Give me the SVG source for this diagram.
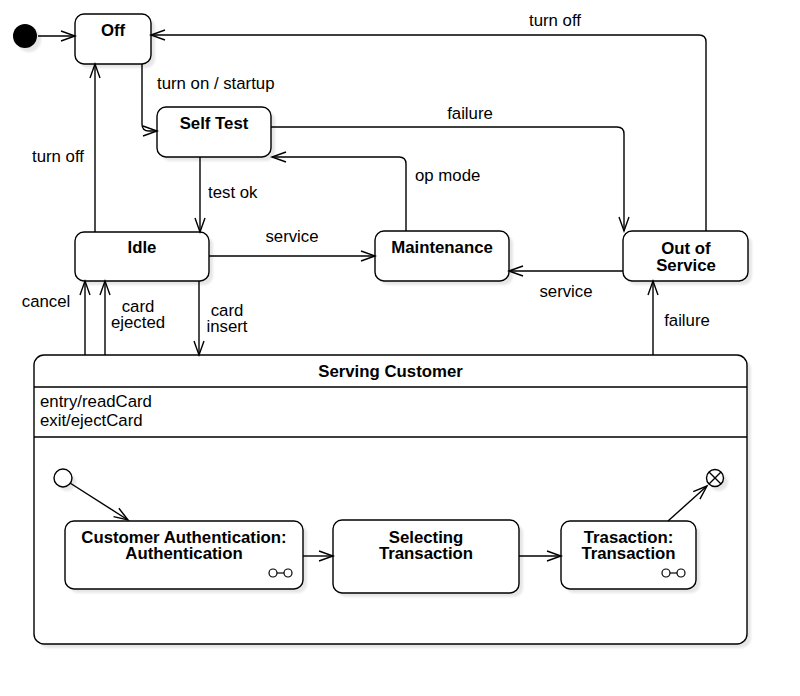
<svg xmlns="http://www.w3.org/2000/svg" width="800" height="696" viewBox="0 0 800 696">
<style>
text{font-family:"Liberation Sans",Arial,Helvetica,sans-serif;font-size:16.8px;fill:#000}
.b{font-weight:bold;text-anchor:middle}
.m{text-anchor:middle}
.box{fill:#fff;stroke:#000;stroke-width:1.4}
.sh{fill:#e6e6e6;stroke:none}
.c{fill:none;stroke:#000;stroke-width:1.4;marker-end:url(#arr)}
.ln{fill:none;stroke:#000;stroke-width:1.4}
</style>
<defs>
<marker id="arr" markerUnits="userSpaceOnUse" markerWidth="20" markerHeight="14" refX="15" refY="6" orient="auto" viewBox="0 0 20 14"><path d="M1,1 L15,6 L1,11" fill="none" stroke="#000" stroke-width="1.4"/></marker>
<filter id="blur" x="-10%" y="-10%" width="120%" height="120%"><feGaussianBlur stdDeviation="1.2"/></filter>
</defs>

<g id="shadows" filter="url(#blur)">
<rect class="sh" x="79" y="18" width="76" height="50" rx="9"/>
<rect class="sh" x="161" y="111" width="114" height="50" rx="9"/>
<rect class="sh" x="79" y="236" width="134" height="49" rx="9"/>
<rect class="sh" x="379" y="235" width="134" height="50" rx="9"/>
<rect class="sh" x="627" y="235" width="125" height="50" rx="9"/>
<rect class="sh" x="38" y="359" width="713" height="289" rx="10"/>
<circle class="sh" cx="29" cy="40" r="12"/>
</g>

<g id="initial"><circle cx="25" cy="36" r="12" fill="#000"/></g>

<g id="off">
<rect class="box" x="75" y="14" width="76" height="50" rx="9"/>
<text class="b" x="113" y="36">Off</text>
</g>

<g id="selftest">
<rect class="box" x="157" y="107" width="114" height="50" rx="9"/>
<text class="b" x="214" y="129">Self Test</text>
</g>

<g id="idle">
<rect class="box" x="75" y="232" width="134" height="49" rx="9"/>
<text class="b" x="142" y="253">Idle</text>
</g>

<g id="maintenance">
<rect class="box" x="375" y="231" width="134" height="50" rx="9"/>
<text class="b" x="442" y="253">Maintenance</text>
</g>

<g id="outofservice">
<rect class="box" x="623" y="231" width="125" height="50" rx="9"/>
<text class="b" x="686" y="254">Out of</text>
<text class="b" x="686" y="271">Service</text>
</g>

<g id="serving">
<rect class="box" x="34" y="355" width="713" height="289" rx="10"/>
<text class="b" x="390.5" y="377">Serving Customer</text>
<path class="ln" d="M34,387 H747 M34,437 H747"/>
<text x="40" y="407">entry/readCard</text>
<text x="40" y="426">exit/ejectCard</text>
</g>

<g id="inner-shadows" filter="url(#blur)">
<rect class="sh" x="69" y="525" width="238" height="68" rx="9"/>
<rect class="sh" x="337" y="524" width="186" height="73" rx="9"/>
<rect class="sh" x="565" y="525" width="135" height="68" rx="9"/>
<circle class="sh" cx="67" cy="482" r="9"/>
<circle class="sh" cx="719" cy="482" r="9"/>
</g>

<g id="inner-initial"><circle cx="63" cy="478" r="9" fill="#fff" stroke="#000" stroke-width="1.4"/></g>

<g id="custauth">
<rect class="box" x="65" y="521" width="238" height="68" rx="9"/>
<text class="b" x="184" y="543">Customer Authentication:</text>
<text class="b" x="184" y="559">Authentication</text>
<circle cx="273" cy="573" r="4" fill="#fff" stroke="#000" stroke-width="1.2"/>
<circle cx="288" cy="573" r="4" fill="#fff" stroke="#000" stroke-width="1.2"/>
<path d="M277,573 H284" stroke="#000" stroke-width="1.2"/>
</g>

<g id="selecting">
<rect class="box" x="333" y="520" width="186" height="73" rx="9"/>
<text class="b" x="426" y="543">Selecting</text>
<text class="b" x="426" y="559">Transaction</text>
</g>

<g id="transaction">
<rect class="box" x="561" y="521" width="135" height="68" rx="9"/>
<text class="b" x="628.5" y="543">Trasaction:</text>
<text class="b" x="628.5" y="559">Transaction</text>
<circle cx="666" cy="573" r="4" fill="#fff" stroke="#000" stroke-width="1.2"/>
<circle cx="681" cy="573" r="4" fill="#fff" stroke="#000" stroke-width="1.2"/>
<path d="M670,573 H677" stroke="#000" stroke-width="1.2"/>
</g>

<g id="exit">
<circle cx="715" cy="478" r="8.5" fill="#fff" stroke="#000" stroke-width="1.4"/>
<path d="M709,472 L721,484 M721,472 L709,484" stroke="#000" stroke-width="1.4"/>
</g>

<g id="connectors">
<path class="c" d="M38,36 H75"/>
<path class="c" d="M142,64 V124 Q142,131 149,131 H157"/>
<path class="c" d="M200,157 V232"/>
<path class="c" d="M95,232 V64"/>
<path class="c" d="M209,256 H375"/>
<path class="c" d="M406,231 V164 Q406,157 399,157 H272"/>
<path class="c" d="M271,127 H617 Q624,127 624,134 V231"/>
<path class="c" d="M706,231 V42 Q706,35 699,35 H151"/>
<path class="c" d="M623,271 H509"/>
<path class="c" d="M653,355 V281"/>
<path class="c" d="M199,281 V355"/>
<path class="c" d="M85,355 V281"/>
<path class="c" d="M105,355 V281"/>
<path class="c" d="M70,483 L128,520"/>
<path class="c" d="M303,556 H333"/>
<path class="c" d="M519,556 H561"/>
<path class="c" d="M668,521 L707,486"/>
</g>

<g id="labels">
<text x="157" y="89">turn on / startup</text>
<text x="32" y="162">turn off</text>
<text x="208" y="198">test ok</text>
<text class="m" x="555" y="26">turn off</text>
<text class="m" x="470" y="119">failure</text>
<text x="415" y="181">op mode</text>
<text class="m" x="292" y="242">service</text>
<text class="m" x="566" y="297">service</text>
<text class="m" x="46" y="307">cancel</text>
<text class="m" x="138" y="312">card</text>
<text class="m" x="138" y="328">ejected</text>
<text class="m" x="227" y="316">card</text>
<text class="m" x="227" y="332">insert</text>
<text class="m" x="687" y="326">failure</text>
</g>
</svg>
